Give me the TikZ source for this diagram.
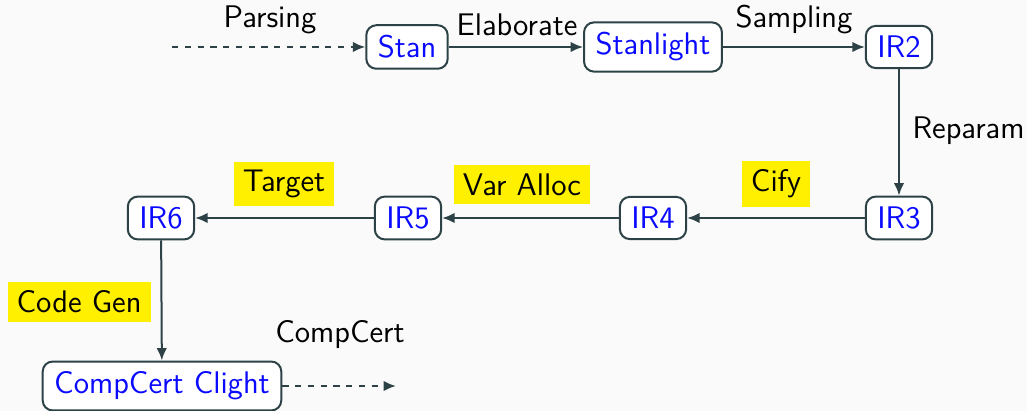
\documentclass[tikz,border=0pt]{standalone}
\usepackage{fontspec}
\usetikzlibrary{arrows.meta}
\definecolor{edgecol}{RGB}{45,66,70}
\definecolor{bgcol}{RGB}{250,250,250}
\definecolor{hlcol}{RGB}{255,240,0}
\definecolor{irblue}{RGB}{10,10,255}
\begin{document}
\begin{tikzpicture}[x=0.4pt,y=-0.4pt,
  font=\sffamily\fontsize{12.5}{15}\selectfont,
  irbox/.style={draw=edgecol, line width=0.8pt, fill=white, rounded corners=4pt,
    text=irblue, inner xsep=4.6pt, inner ysep=4.1pt},
  flow/.style={draw=edgecol, line width=0.8pt, -{Latex[length=5pt,width=4.2pt]}},
  dashflow/.style={flow, dash pattern=on 2.5pt off 2.6pt},
  hl/.style={fill=hlcol, inner xsep=3.6pt, inner ysep=3.4pt, text=black},
  plain/.style={text=black, inner sep=0pt}]
  % canvas
  \fill[bgcol] (0,0) rectangle (1027,411);
  \useasboundingbox (0,0) rectangle (1027,411);

  % intermediate representations
  \node[irbox] (stan)  at (407,47)  {Stan};
  \node[irbox] (slight) at (653,47) {Stanlight};
  \node[irbox] (ir2)   at (899,47)  {IR2};
  \node[irbox] (ir3)   at (899,218) {IR3};
  \node[irbox] (ir4)   at (653,218) {IR4};
  \node[irbox] (ir5)   at (408,218) {IR5};
  \node[irbox] (ir6)   at (161,218) {IR6};
  \node[irbox] (clight) at (162,386) {CompCert Clight};

  % open ends of the dashed connectors
  \coordinate (src) at (172,47);
  \coordinate (out) at (396,386);

  % passes
  \draw[dashflow] (src) -- (stan.west);
  \draw[flow] (stan) -- (slight);
  \draw[flow] (slight) -- (ir2);
  \draw[flow] (ir2) -- (ir3);
  \draw[flow] (ir3) -- (ir4);
  \draw[flow] (ir4) -- (ir5);
  \draw[flow] (ir5) -- (ir6);
  \draw[flow] (ir6) -- (clight);
  \draw[dashflow] (clight.east) -- (out);

  % pass names
  \node[plain] (lparse) at (270,20) {Parsing};
  \node[plain] (lelab)  at (517,25) {Elaborate};
  \node[plain] (lsamp)  at (794,20) {Sampling};
  \node[plain, anchor=west] (lrep) at (912,131) {Reparam};
  \node[hl] (lcify)   at (776,184) {Cify};
  \node[hl] (lvar)    at (522,185) {Var Alloc};
  \node[hl] (ltarget) at (284,184) {Target};
  \node[hl, anchor=east] (lcode) at (151,302) {Code Gen};
  \node[plain] (lcc) at (340,335) {CompCert};
\end{tikzpicture}
\end{document}
